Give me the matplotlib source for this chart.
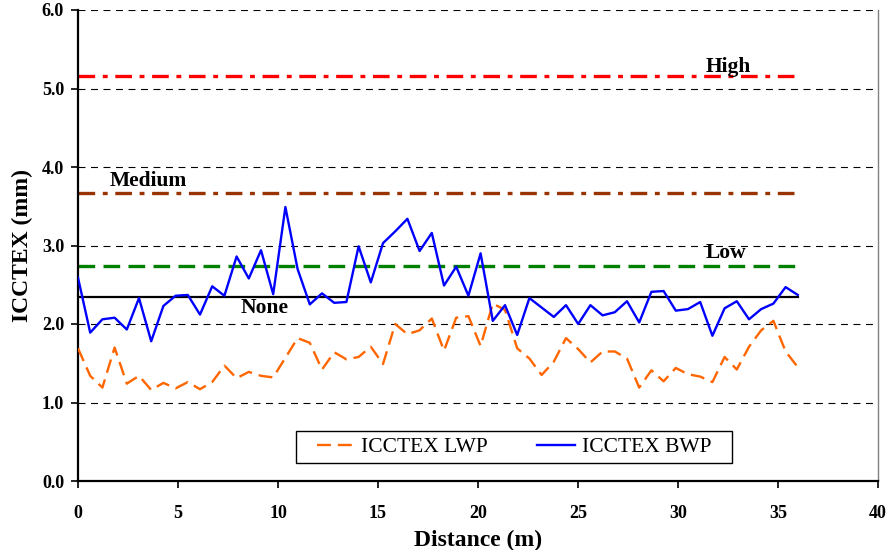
import matplotlib
matplotlib.use('Agg')
import matplotlib.pyplot as plt
from matplotlib.patches import Rectangle

plt.rcParams['font.family'] = ['Liberation Serif', 'DejaVu Serif']
plt.rcParams['lines.scale_dashes'] = False

# readings every 2 ft along the section
distance = [0.00, 0.61, 1.22, 1.83, 2.44, 3.05, 3.66, 4.27, 4.88, 5.49,
            6.10, 6.71, 7.32, 7.93, 8.54, 9.15, 9.76, 10.37, 10.98, 11.59,
            12.20, 12.81, 13.42, 14.03, 14.64, 15.25, 15.86, 16.47, 17.08, 17.69,
            18.30, 18.91, 19.52, 20.13, 20.74, 21.35, 21.96, 22.57, 23.18, 23.79,
            24.40, 25.01, 25.62, 26.23, 26.84, 27.45, 28.06, 28.67, 29.28, 29.89,
            30.50, 31.11, 31.72, 32.33, 32.94, 33.55, 34.16, 34.77, 35.38, 35.99]

icctex_lwp = [1.69, 1.34, 1.19, 1.70, 1.24, 1.34, 1.16, 1.25, 1.18, 1.26,
              1.17, 1.26, 1.47, 1.31, 1.39, 1.34, 1.32, 1.57, 1.82, 1.76,
              1.42, 1.64, 1.55, 1.58, 1.71, 1.49, 2.00, 1.87, 1.92, 2.07,
              1.66, 2.08, 2.10, 1.72, 2.26, 2.18, 1.69, 1.56, 1.35, 1.52,
              1.82, 1.68, 1.51, 1.65, 1.65, 1.56, 1.19, 1.41, 1.27, 1.44,
              1.36, 1.33, 1.26, 1.58, 1.42, 1.71, 1.92, 2.04, 1.65, 1.45]

icctex_bwp = [2.59, 1.89, 2.06, 2.08, 1.93, 2.33, 1.78, 2.23, 2.36, 2.37,
              2.12, 2.48, 2.36, 2.86, 2.58, 2.94, 2.38, 3.49, 2.70, 2.25,
              2.39, 2.27, 2.28, 2.99, 2.53, 3.03, 3.18, 3.34, 2.93, 3.16,
              2.49, 2.73, 2.36, 2.90, 2.04, 2.24, 1.86, 2.33, 2.21, 2.09,
              2.24, 2.00, 2.24, 2.11, 2.15, 2.29, 2.02, 2.41, 2.42, 2.17,
              2.19, 2.28, 1.85, 2.20, 2.29, 2.06, 2.19, 2.26, 2.47, 2.37]

# roughness thresholds
level_names = ['None', 'Low', 'Medium', 'High']
level_values = [2.34, 2.74, 3.67, 5.16]
level_end = 36

fig = plt.figure(figsize=(8.88, 5.5), dpi=100)
ax = fig.add_axes([78 / 888, 69 / 550, 800 / 888, 471 / 550])

ax.set_xlim(0, 40)
ax.set_ylim(0, 6)

# horizontal grid
for gy in [1, 2, 3, 4, 5, 6]:
    ax.axhline(gy, color='black', lw=0.8, dashes=(5, 4), zorder=1)

styles = {
    'None': dict(color='black', lw=1.6, linestyle='-'),
    'Low': dict(color='#008000', lw=2.4, dashes=(12, 6)),
    'Medium': dict(color='#993300', lw=2.4, dashes=(12, 5.5, 3.5, 5.5)),
    'High': dict(color='#FF0000', lw=2.4, dashes=(12, 5.5, 3.5, 5.5)),
}
for name, val in zip(level_names, level_values):
    ax.plot([0, level_end], [val, val], zorder=2, **styles[name])

label_pos = {'None': (9.35, 2.21), 'Low': (32.4, 2.91),
             'Medium': (3.5, 3.82), 'High': (32.5, 5.27)}
for name, val in zip(level_names, level_values):
    lx, ly = label_pos[name]
    ax.text(lx, ly, name, ha='center', va='center', fontsize=15.5,
            fontweight='bold', zorder=5)

ax.plot(distance, icctex_lwp, color='#FF6600', lw=1.7, dashes=(10, 5),
        label='ICCTEX LWP', zorder=3)
ax.plot(distance, icctex_bwp, color='#0000FF', lw=1.7,
        label='ICCTEX BWP', zorder=4)

ax.set_xticks(range(0, 41, 5))
ax.set_yticks([0, 1, 2, 3, 4, 5, 6])
ax.set_yticklabels(['%.1f' % v for v in range(7)])
ax.tick_params(direction='out', length=5, width=1.2, labelsize=13, color='black')
ax.tick_params(axis='x', pad=12)
ax.tick_params(axis='y', pad=5)
for lab in ax.get_xticklabels() + ax.get_yticklabels():
    lab.set_fontweight('bold')

ax.spines['top'].set_visible(False)
ax.spines['right'].set_color('#808080')
ax.spines['right'].set_linewidth(1.0)
ax.spines['left'].set_linewidth(1.6)
ax.spines['bottom'].set_linewidth(1.6)

ax.set_xlabel('Distance (m)', fontsize=17, fontweight='bold', labelpad=6)
ax.set_ylabel('ICCTEX (mm)', fontsize=17, fontweight='bold', labelpad=6)

# legend box
ax.add_patch(Rectangle((0.2725, 0.038), 0.545, 0.068, transform=ax.transAxes,
                       facecolor='white', edgecolor='black', lw=1.0, zorder=6))
leg = ax.legend(loc='center', bbox_to_anchor=(0.545, 0.072), ncol=2,
                fontsize=15.5, frameon=False, handlelength=1.75,
                handletextpad=0.3, columnspacing=2.3, borderaxespad=0)
leg.set_zorder(7)

fig.savefig('out.png', dpi=100)
